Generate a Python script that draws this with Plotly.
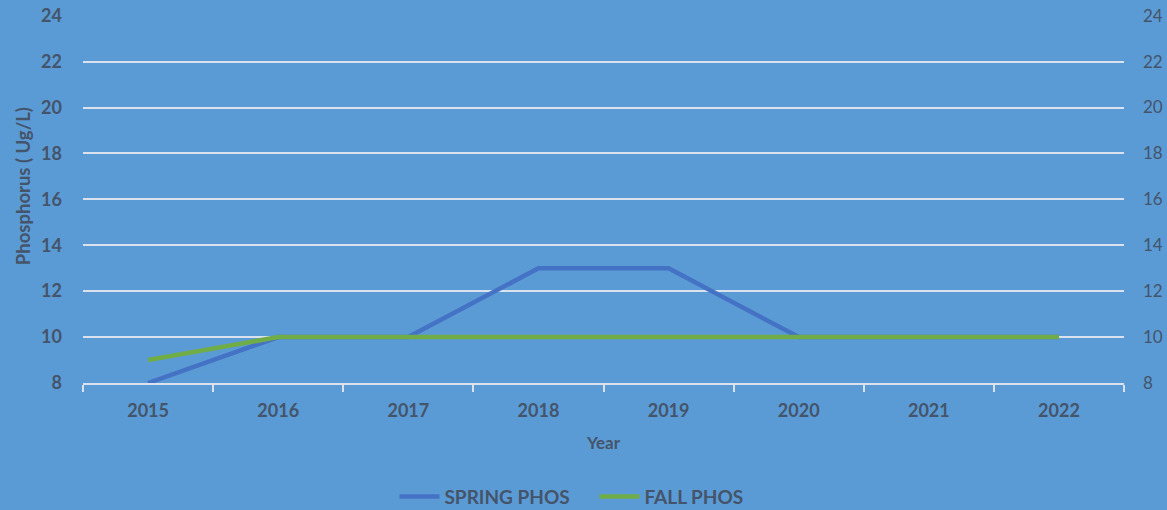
import plotly.graph_objects as go

years = ["2015", "2016", "2017", "2018", "2019", "2020", "2021", "2022"]
spring_phos = [8, 10, 10, 13, 13, 10, 10, 10]
fall_phos = [9, 10, 10, 10, 10, 10, 10, 10]

bg = "#5B9BD5"
txt = "#44546A"
grid = "#D9E2EE"
font = "Lato"

fig = go.Figure()
fig.add_trace(go.Scatter(x=years, y=spring_phos, mode="lines", name="SPRING PHOS",
                         line=dict(color="#4472C4", width=4.5)))
fig.add_trace(go.Scatter(x=years, y=fall_phos, mode="lines", name="FALL PHOS",
                         line=dict(color="#70AD47", width=4.5)))
fig.add_trace(go.Scatter(x=years, y=fall_phos, mode="lines", yaxis="y2",
                         showlegend=False, hoverinfo="skip",
                         line=dict(color="rgba(0,0,0,0)", width=0)))

fig.update_layout(
    width=1167, height=510,
    paper_bgcolor=bg, plot_bgcolor=bg,
    margin=dict(l=83, r=43, t=15, b=127),
    font=dict(family=font, color=txt),
    xaxis=dict(type="category", range=[-0.5, 7.5], tickson="boundaries", ticks="outside", ticklen=7,
               tickcolor=grid, tickwidth=1.5, showline=True, linecolor=grid, linewidth=1.5,
               showgrid=False, zeroline=False, automargin=False,
               tickfont=dict(family=font, size=18, color=txt, weight="bold"),
               ticklabelstandoff=11,
               title=dict(text="Year", font=dict(family=font, size=17, color=txt, weight="bold"),
                          standoff=17)),
    yaxis=dict(range=[8, 24.03], tickvals=[8, 10, 12, 14, 16, 18, 20, 22, 24],
               showgrid=True, gridcolor=grid, gridwidth=1.5, automargin=False,
               zeroline=False, showline=False, ticks="",
               tickfont=dict(family=font, size=18, color=txt, weight="bold"),
               ticklabelstandoff=20),
    yaxis2=dict(range=[8, 24.03], tickvals=[8, 10, 12, 14, 16, 18, 20, 22, 24],
                overlaying="y", side="right", showgrid=False, automargin=False,
                zeroline=False, showline=False, ticks="",
                tickfont=dict(family=font, size=17, color=txt), ticklabelstandoff=18),
    legend=dict(orientation="h", xref="container", yref="container",
                x=0.338, xanchor="left", y=0.026, yanchor="middle",
                font=dict(family=font, size=19, color=txt, weight="bold"),
                bgcolor="rgba(0,0,0,0)", itemwidth=40,
                entrywidth=145, entrywidthmode="pixels"),
    annotations=[dict(text="Phosphorus ( Ug/L)", textangle=-90, showarrow=False,
                      xref="paper", yref="paper", x=-0.0576, y=0.535,
                      xanchor="center", yanchor="middle",
                      font=dict(family=font, size=18.5, color=txt, weight="bold"))],
    showlegend=True,
)

fig.write_html("out.html", config={"displayModeBar": False},
               post_script="document.body.style.margin='0';")
